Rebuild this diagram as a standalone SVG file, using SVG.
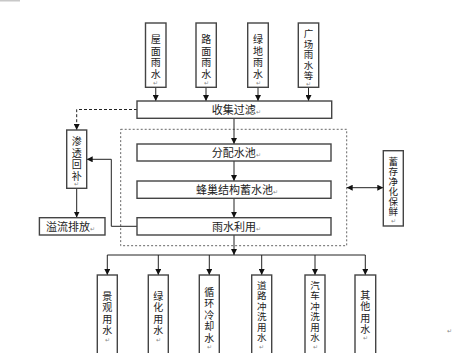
<svg xmlns="http://www.w3.org/2000/svg" width="457" height="353" viewBox="0 0 457 353">
<defs>
<style>
.box{fill:#fff;stroke:#444;stroke-width:1.4}
.ln{fill:none;stroke:#222;stroke-width:1}
.dash{fill:none;stroke:#222;stroke-width:1;stroke-dasharray:3 2}
.region{fill:none;stroke:#666;stroke-width:1;stroke-dasharray:2 2}
text{font-family:"Noto Sans CJK SC","Noto Sans",sans-serif;font-size:11px;fill:#222}
.v{text-anchor:middle;font-size:10px}
.s{font-size:9.5px}
.r{font-size:6px;fill:#888}
</style>
<marker id="ah" viewBox="0 0 8 8" refX="8" refY="4" markerWidth="6" markerHeight="6" orient="auto-start-reverse" markerUnits="userSpaceOnUse">
<path d="M0,0 L8,4 L0,8 Z" fill="#111"/>
</marker>
</defs>
<rect x="0" y="0" width="20" height="1.5" fill="#c8c8c8"/>
<rect class="region" x="120.7" y="129.3" width="226" height="116.4"/>

<g id="connectors">
<line class="ln" x1="155.75" y1="87.5" x2="155.75" y2="101" marker-end="url(#ah)"/>
<line class="ln" x1="206" y1="87.5" x2="206" y2="101" marker-end="url(#ah)"/>
<line class="ln" x1="258" y1="87.5" x2="258" y2="101" marker-end="url(#ah)"/>
<line class="ln" x1="308.5" y1="87.5" x2="308.5" y2="101" marker-end="url(#ah)"/>
<path class="dash" d="M137,109.5 H76.7 V130" marker-end="url(#ah)"/>
<line class="ln" x1="76.7" y1="188.3" x2="76.7" y2="217.5" marker-end="url(#ah)"/>
<line class="ln" x1="234" y1="118.5" x2="234" y2="144" marker-end="url(#ah)"/>
<line class="ln" x1="234" y1="161" x2="234" y2="181" marker-end="url(#ah)"/>
<line class="ln" x1="234" y1="198.3" x2="234" y2="217.7" marker-end="url(#ah)"/>
<path class="ln" d="M137,226.3 H111.3 V159.3 H86.7" marker-end="url(#ah)"/>
<line class="ln" x1="346.7" y1="187.7" x2="383.3" y2="187.7" marker-start="url(#ah)" marker-end="url(#ah)"/>
<line class="ln" x1="234" y1="235" x2="234" y2="255" marker-end="url(#ah)"/>
<line class="ln" x1="107.3" y1="255" x2="365.3" y2="255"/>
<line class="ln" x1="107.3" y1="255" x2="107.3" y2="275" marker-end="url(#ah)"/>
<line class="ln" x1="158.3" y1="255" x2="158.3" y2="275" marker-end="url(#ah)"/>
<line class="ln" x1="209.3" y1="255" x2="209.3" y2="275" marker-end="url(#ah)"/>
<line class="ln" x1="261.7" y1="255" x2="261.7" y2="275" marker-end="url(#ah)"/>
<line class="ln" x1="315" y1="255" x2="315" y2="275" marker-end="url(#ah)"/>
<line class="ln" x1="365.3" y1="255" x2="365.3" y2="275" marker-end="url(#ah)"/>
</g>

<g id="n-wumian">
<rect class="box" x="145.5" y="23" width="20.5" height="64.3"/>
<text class="v"><tspan x="155.75" y="43.3">屋</tspan><tspan x="155.75" y="54.8">面</tspan><tspan x="155.75" y="66.3">雨</tspan><tspan x="155.75" y="77.8">水</tspan><tspan class="r" x="155.75" y="84.5">↵</tspan></text>
</g>
<g id="n-lumian">
<rect class="box" x="196" y="23" width="20.3" height="64.3"/>
<text class="v"><tspan x="206.15" y="43.3">路</tspan><tspan x="206.15" y="54.8">面</tspan><tspan x="206.15" y="66.3">雨</tspan><tspan x="206.15" y="77.8">水</tspan><tspan class="r" x="206.15" y="84.5">↵</tspan></text>
</g>
<g id="n-lvdi">
<rect class="box" x="247.7" y="23" width="20.6" height="64.3"/>
<text class="v"><tspan x="258" y="43.3">绿</tspan><tspan x="258" y="54.8">地</tspan><tspan x="258" y="66.3">雨</tspan><tspan x="258" y="77.8">水</tspan><tspan class="r" x="258" y="84.5">↵</tspan></text>
</g>
<g id="n-guangchang">
<rect class="box" x="298.3" y="23" width="20.4" height="64.3"/>
<text class="v s"><tspan x="308.5" y="37.1">广</tspan><tspan x="308.5" y="47.6">场</tspan><tspan x="308.5" y="58.1">雨</tspan><tspan x="308.5" y="68.6">水</tspan><tspan x="308.5" y="79.1">等</tspan><tspan class="r" x="308.5" y="86.3">↵</tspan></text>
</g>

<g id="n-shouji">
<rect class="box" x="137" y="101" width="194.7" height="17.3"/>
<text x="211.7" y="113.9">收集过滤<tspan class="r">↵</tspan></text>
</g>
<g id="n-shentou">
<rect class="box" x="66.7" y="130" width="20" height="58.3"/>
<text class="v"><tspan x="76.7" y="145.3">渗</tspan><tspan x="76.7" y="156.8">透</tspan><tspan x="76.7" y="168.3">回</tspan><tspan x="76.7" y="179.8">补</tspan><tspan class="r" x="76.7" y="186.3">↵</tspan></text>
</g>
<g id="n-yiliu">
<rect class="box" x="39.4" y="217.7" width="65.6" height="17.3"/>
<text x="46" y="230.5">溢流排放<tspan class="r">↵</tspan></text>
</g>
<g id="n-fenpei">
<rect class="box" x="137" y="144" width="194" height="17"/>
<text x="211.7" y="156.7">分配水池<tspan class="r">↵</tspan></text>
</g>
<g id="n-fengchao">
<rect class="box" x="137" y="181" width="194" height="17.3"/>
<text x="196" y="193.9">蜂巢结构蓄水池<tspan class="r">↵</tspan></text>
</g>
<g id="n-yushui">
<rect class="box" x="137" y="217.7" width="194" height="17.3"/>
<text x="212" y="230.5">雨水利用<tspan class="r">↵</tspan></text>
</g>
<g id="n-xucun">
<rect class="box" x="383.3" y="150.7" width="20" height="75.3"/>
<text class="v s"><tspan x="393.3" y="165.1">蓄</tspan><tspan x="393.3" y="175.1">存</tspan><tspan x="393.3" y="185.1">净</tspan><tspan x="393.3" y="195.1">化</tspan><tspan x="393.3" y="205.1">保</tspan><tspan x="393.3" y="215.1">鲜</tspan><tspan class="r" x="393.3" y="222.5">↵</tspan></text>
</g>

<g id="n-jingguan">
<rect class="box" x="97.3" y="275" width="20" height="82"/>
<text class="v"><tspan x="107.3" y="299.8">景</tspan><tspan x="107.3" y="311.3">观</tspan><tspan x="107.3" y="322.8">用</tspan><tspan x="107.3" y="334.3">水</tspan><tspan class="r" x="107.3" y="342">↵</tspan></text>
</g>
<g id="n-lvhua">
<rect class="box" x="148.3" y="275" width="20" height="82"/>
<text class="v"><tspan x="158.3" y="299.8">绿</tspan><tspan x="158.3" y="311.3">化</tspan><tspan x="158.3" y="322.8">用</tspan><tspan x="158.3" y="334.3">水</tspan><tspan class="r" x="158.3" y="342">↵</tspan></text>
</g>
<g id="n-xunhuan">
<rect class="box" x="199.3" y="275" width="20" height="82"/>
<text class="v"><tspan x="209.3" y="295.8">循</tspan><tspan x="209.3" y="307.3">环</tspan><tspan x="209.3" y="318.8">冷</tspan><tspan x="209.3" y="330.3">却</tspan><tspan x="209.3" y="341.8">水</tspan><tspan class="r" x="209.3" y="349">↵</tspan></text>
</g>
<g id="n-daolu">
<rect class="box" x="251.7" y="275" width="20" height="82"/>
<text class="v s"><tspan x="261.7" y="288.6">道</tspan><tspan x="261.7" y="299.1">路</tspan><tspan x="261.7" y="309.6">冲</tspan><tspan x="261.7" y="320.1">洗</tspan><tspan x="261.7" y="330.6">用</tspan><tspan x="261.7" y="341.1">水</tspan><tspan class="r" x="261.7" y="349">↵</tspan></text>
</g>
<g id="n-qiche">
<rect class="box" x="305" y="275" width="20" height="82"/>
<text class="v s"><tspan x="315" y="288.6">汽</tspan><tspan x="315" y="299.1">车</tspan><tspan x="315" y="309.6">冲</tspan><tspan x="315" y="320.1">洗</tspan><tspan x="315" y="330.6">用</tspan><tspan x="315" y="341.1">水</tspan><tspan class="r" x="315" y="349">↵</tspan></text>
</g>
<g id="n-qita">
<rect class="box" x="355" y="275" width="20.7" height="82"/>
<text class="v"><tspan x="365.3" y="298.8">其</tspan><tspan x="365.3" y="310.3">他</tspan><tspan x="365.3" y="321.8">用</tspan><tspan x="365.3" y="332.8">水</tspan><tspan class="r" x="365.3" y="339.5">↵</tspan></text>
</g>
<text class="r" x="447" y="333">↵</text>
</svg>
